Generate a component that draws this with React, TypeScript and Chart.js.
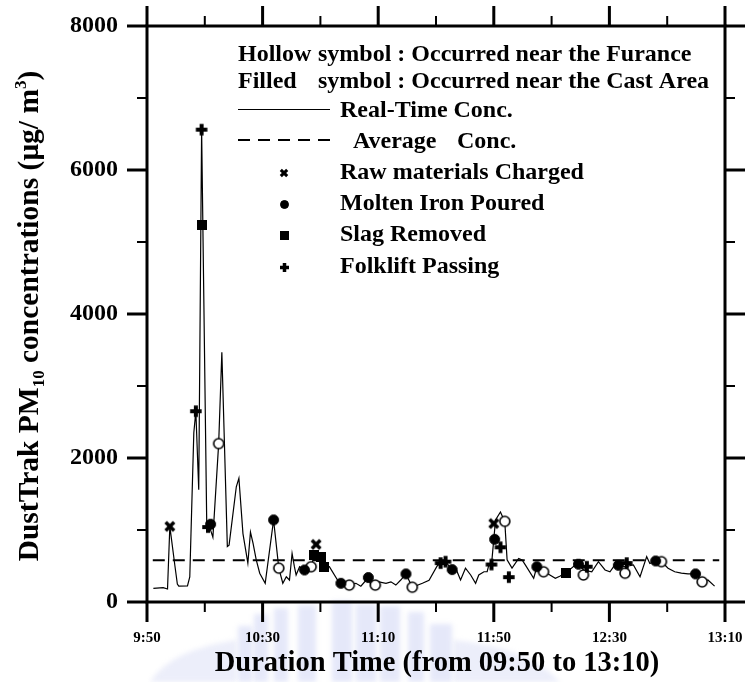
import React, { useEffect, useRef } from 'react';
import { Chart, registerables } from 'chart.js';

Chart.register(...registerables);

// Minutes elapsed since 09:50 and DustTrak PM10 readings (µg/m3)
const RT_MINUTES = [
  2.2, 5.6, 7.1, 7.9, 9.7, 10.5, 11.0, 14.0, 14.8, 16.2, 16.9, 17.9, 18.9, 20.7, 21.5, 22.8,
  24.8, 25.9, 27.8, 28.4, 30.9, 31.8, 33.2, 34.9, 35.8, 36.7, 37.8, 39.0, 40.9, 43.8, 45.6,
  47.0, 48.2, 49.3, 50.2, 51.0, 51.6, 52.8, 54.5, 56.8, 58.2, 60.0, 61.4, 63.1, 66.6, 70.0,
  72.3, 74.0, 76.6, 77.5, 79.0, 80.3, 82.7, 84.4, 86.1, 87.8, 89.6, 91.8, 95.3, 97.6, 100.4,
  101.6, 103.3, 105.6, 106.8, 108.5, 110.2, 112.0, 113.7, 114.8, 116.6, 117.7, 118.3, 119.2,
  120.6, 122.3, 123.8, 124.6, 126.3, 128.6, 129.8, 130.9, 133.8, 134.9, 137.2, 138.4, 141.3,
  143.0, 144.9, 148.2, 149.3, 151.0, 153.9, 156.2, 158.5, 160.2, 161.9, 163.1, 165.4, 168.3,
  170.6, 172.9, 174.0, 176.0, 178.0, 180.3, 182.6, 184.9, 187.2, 189.8, 192.1, 194.1, 196.4,
];
const RT_CONC = [
  190, 200, 180, 1050, 490, 250, 220, 225, 350, 2350, 2650, 1560, 6560, 1000, 1060, 900,
  2200, 3470, 770, 790, 1600, 1720, 950, 540, 970, 815, 585, 400, 260, 1140, 470,
  260, 350, 305, 675, 490, 375, 490, 445, 490, 700, 640, 490, 490, 260, 235,
  260, 220, 340, 235, 235, 280, 260, 280, 235, 305, 390, 205, 260, 300, 500,
  540, 560, 445, 470, 305, 470, 375, 260, 375, 420, 420, 515, 515,
  1140, 1250, 1115, 585, 470, 605, 585, 515, 330, 490, 420, 400, 330,
  360, 405, 515, 535, 445, 420, 560, 445, 420, 515, 515, 490, 515,
  350, 630, 535, 570, 560, 470, 420, 400, 390, 390, 280, 305, 220,
];

const AVG_CONC = 580;
const AVG_SPAN = [2, 198];

// Events (minutes, concentration)
const CHARGED_MIN = [7.9, 58.5, 120.0];
const CHARGED_VAL = [1050, 800, 1090];
const POURED_CAST_MIN = [22.0, 43.8, 54.5, 67.1, 76.6, 89.6, 105.6, 120.3, 134.9, 149.3, 163.1, 176.0, 189.8];
const POURED_CAST_VAL = [1080, 1140, 445, 260, 340, 390, 450, 870, 490, 525, 510, 570, 390];
const POURED_FURN_MIN = [24.8, 45.6, 56.8, 70.0, 79.0, 91.8, 123.8, 137.2, 151.0, 165.4, 178.0, 192.1];
const POURED_FURN_VAL = [2200, 470, 490, 235, 235, 205, 1120, 420, 375, 400, 560, 280];
const SLAG_MIN = [18.9, 57.9, 60.2, 61.4, 144.9];
const SLAG_VAL = [5240, 650, 620, 490, 405];
const FORKLIFT_MIN = [16.9, 18.9, 21.1, 101.6, 103.3, 119.2, 122.3, 125.2, 152.2, 166.0];
const FORKLIFT_VAL = [2650, 6560, 1040, 540, 560, 520, 760, 345, 490, 540];

const X_TICK_LABELS = ['9:50', '10:30', '11:10', '11:50', '12:30', '13:10'];
const Y_TICK_LABELS = ['0', '2000', '4000', '6000', '8000'];
const X_MAX = 200;
const X_MAJOR = 40;
const X_MINOR = 20;
const Y_MAX = 8000;
const Y_MAJOR = 2000;
const Y_MINOR = 1000;

const X_TITLE = 'Duration Time (from 09:50 to 13:10)';
const LEGEND_NOTE_1 = ['Hollow', 'symbol : Occurred near the Furance'];
const LEGEND_NOTE_2 = ['Filled', 'symbol : Occurred near the Cast Area'];
const LEGEND_LINE_1 = 'Real-Time Conc.';
const LEGEND_LINE_2 = ['Average', 'Conc.'];
const LEGEND_EVENTS = ['Raw materials Charged', 'Molten Iron Poured', 'Slag Removed', 'Folklift Passing'];

const SERIF = '"Liberation Serif", "Times New Roman", serif';
const bold = (size: number) => `bold ${size}px ${SERIF}`;

const pts = (xs: number[], ys: number[]) => xs.map((x, i) => ({ x, y: ys[i] }));

// Heavy "×" and "+" glyphs used as point images
function barGlyph(rotated: boolean, len: number, arm: number) {
  const size = Math.ceil(len + arm) + 2;
  const c = document.createElement('canvas');
  c.width = size;
  c.height = size;
  const g = c.getContext('2d')!;
  g.fillStyle = '#000';
  g.translate(size / 2, size / 2);
  if (rotated) g.rotate(Math.PI / 4);
  g.fillRect(-len / 2, -arm / 2, len, arm);
  g.fillRect(-arm / 2, -len / 2, arm, len);
  return c;
}

function dot(radius: number, filled: boolean, lw: number) {
  const size = Math.ceil(radius * 2 + lw) + 2;
  const c = document.createElement('canvas');
  c.width = size;
  c.height = size;
  const g = c.getContext('2d')!;
  g.beginPath();
  g.arc(size / 2, size / 2, radius, 0, Math.PI * 2);
  g.fillStyle = filled ? '#000' : '#fff';
  g.fill();
  g.lineWidth = lw;
  g.strokeStyle = '#000';
  g.stroke();
  return c;
}

function square(side: number) {
  const c = document.createElement('canvas');
  c.width = side;
  c.height = side;
  const g = c.getContext('2d')!;
  g.fillStyle = '#000';
  g.fillRect(0, 0, side, side);
  return c;
}

const markerSet = (xs: number[], ys: number[], img: HTMLCanvasElement) => ({
  data: pts(xs, ys),
  showLine: false,
  pointStyle: img,
  pointRadius: img.width / 2,
  order: 0,
});

// Faint bluish emblem sitting behind the axis title
function drawWatermark(ctx: CanvasRenderingContext2D) {
  ctx.save();
  ctx.filter = 'blur(2.5px)';
  ctx.fillStyle = 'rgba(175, 184, 236, 0.32)';
  const cols: [number, number, number][] = [
    [238, 252, 626], [254, 268, 614], [274, 288, 608], [298, 316, 605],
    [332, 352, 601], [356, 376, 604], [380, 400, 606], [408, 424, 612], [430, 452, 624],
  ];
  for (const [x0, x1, top] of cols) {
    ctx.fillRect(x0, top, x1 - x0, 682 - top);
  }
  ctx.fillStyle = 'rgba(180, 188, 236, 0.25)';
  ctx.beginPath();
  ctx.moveTo(150, 682);
  ctx.quadraticCurveTo(170, 650, 236, 640);
  ctx.lineTo(236, 682);
  ctx.closePath();
  ctx.fill();
  ctx.beginPath();
  ctx.moveTo(454, 640);
  ctx.quadraticCurveTo(530, 648, 560, 682);
  ctx.lineTo(454, 682);
  ctx.closePath();
  ctx.fill();
  ctx.restore();
}

const IMG: Record<string, HTMLCanvasElement> = {};

const framePlugin = {
  id: 'frame',
  beforeDraw(chart: any) {
    drawWatermark(chart.ctx);
  },
  afterDraw(chart: any) {
    const { ctx, chartArea: a, scales } = chart;
    const xs = scales.x;
    const ys = scales.y;
    ctx.save();
    ctx.strokeStyle = '#000';
    ctx.lineCap = 'square';
    ctx.lineWidth = 3;
    ctx.strokeRect(a.left, a.top, a.right - a.left, a.bottom - a.top);
    ctx.lineCap = 'butt';
    for (let m = 0; m <= X_MAX; m += X_MINOR) {
      const major = m % X_MAJOR === 0;
      const len = major ? 20 : 10;
      const px = xs.getPixelForValue(m);
      ctx.lineWidth = major ? 3 : 2;
      ctx.beginPath();
      ctx.moveTo(px, a.bottom);
      ctx.lineTo(px, a.bottom + len);
      ctx.moveTo(px, a.top);
      ctx.lineTo(px, a.top - len);
      ctx.stroke();
    }
    for (let v = 0; v <= Y_MAX; v += Y_MINOR) {
      const major = v % Y_MAJOR === 0;
      const len = major ? 20 : 10;
      const py = ys.getPixelForValue(v);
      ctx.lineWidth = major ? 3 : 2;
      ctx.beginPath();
      ctx.moveTo(a.left, py);
      ctx.lineTo(a.left - len, py);
      ctx.moveTo(a.right, py);
      ctx.lineTo(a.right + len, py);
      ctx.stroke();
    }

    ctx.fillStyle = '#000';
    // x-axis title
    ctx.font = bold(28.5);
    ctx.textAlign = 'center';
    ctx.textBaseline = 'middle';
    ctx.fillText(X_TITLE, (a.left + a.right) / 2 + 1, 664);

    // y-axis title with subscript / superscript
    const parts = [
      { t: 'DustTrak PM', s: 29.5, dy: 0 },
      { t: '10', s: 17, dy: 6 },
      { t: ' concentrations (', s: 29.5, dy: 0 },
      { t: 'μg/ m', s: 29.5, dy: 0 },
      { t: '3', s: 17, dy: -12 },
      { t: ')', s: 29.5, dy: 0 },
    ];
    ctx.save();
    ctx.translate(27, (a.top + a.bottom) / 2 + 2);
    ctx.rotate(-Math.PI / 2);
    ctx.textAlign = 'left';
    ctx.textBaseline = 'alphabetic';
    let total = 0;
    for (const p of parts) {
      ctx.font = bold(p.s);
      total += ctx.measureText(p.t).width;
    }
    let cx = -total / 2;
    for (const p of parts) {
      ctx.font = bold(p.s);
      ctx.fillText(p.t, cx, 11 + p.dy);
      cx += ctx.measureText(p.t).width;
    }
    ctx.restore();

    // legend block
    const lx = 238;
    ctx.font = bold(24);
    ctx.textAlign = 'left';
    ctx.textBaseline = 'middle';
    const symX = 318;
    ctx.fillText(LEGEND_NOTE_1[0], lx, 55);
    ctx.fillText(LEGEND_NOTE_1[1], symX, 55);
    ctx.fillText(LEGEND_NOTE_2[0], lx, 82);
    ctx.fillText(LEGEND_NOTE_2[1], symX, 82);

    ctx.lineWidth = 1.2;
    ctx.beginPath();
    ctx.moveTo(lx, 109.5);
    ctx.lineTo(330, 109.5);
    ctx.stroke();
    ctx.fillText(LEGEND_LINE_1, 340, 111);

    ctx.lineWidth = 2;
    ctx.setLineDash([12, 8]);
    ctx.beginPath();
    ctx.moveTo(lx, 140);
    ctx.lineTo(330, 140);
    ctx.stroke();
    ctx.setLineDash([]);
    ctx.fillText(LEGEND_LINE_2[0], 353, 142);
    ctx.fillText(LEGEND_LINE_2[1], 457, 142);

    const rows = [173, 204, 235, 267];
    const icons = [IMG.xSmall, IMG.dotSmall, IMG.sqSmall, IMG.plusSmall];
    LEGEND_EVENTS.forEach((label, i) => {
      const img = icons[i];
      ctx.drawImage(img, Math.round(284 - img.width / 2), Math.round(rows[i] - img.height / 2));
      ctx.fillText(label, 340, rows[i]);
    });
    ctx.restore();
  },
};

export default function App() {
  const ref = useRef<HTMLCanvasElement | null>(null);

  useEffect(() => {
    if (!ref.current) return;
    IMG.xSmall = barGlyph(true, 9, 3);
    IMG.plusSmall = barGlyph(false, 9, 3.5);
    IMG.dotSmall = dot(4, true, 1);
    IMG.sqSmall = square(9);
    const xMark = barGlyph(true, 12, 3.6);
    const plusMark = barGlyph(false, 11.5, 4);
    const filledDot = dot(5, true, 1);
    const hollowDot = dot(5, false, 1.6);
    const slagMark = square(10);

    const chart = new Chart(ref.current, {
      type: 'line',
      data: {
        datasets: [
          markerSet(CHARGED_MIN, CHARGED_VAL, xMark),
          markerSet(FORKLIFT_MIN, FORKLIFT_VAL, plusMark),
          markerSet(SLAG_MIN, SLAG_VAL, slagMark),
          markerSet(POURED_CAST_MIN, POURED_CAST_VAL, filledDot),
          markerSet(POURED_FURN_MIN, POURED_FURN_VAL, hollowDot),
          {
            data: pts(RT_MINUTES, RT_CONC),
            borderColor: '#000',
            borderWidth: 1.2,
            pointRadius: 0,
            tension: 0,
            order: 1,
          },
          {
            data: pts(AVG_SPAN, [AVG_CONC, AVG_CONC]),
            borderColor: '#000',
            borderWidth: 2,
            borderDash: [12, 8],
            pointRadius: 0,
            order: 2,
          },
        ] as any,
      },
      options: {
        responsive: false,
        animation: false,
        devicePixelRatio: 1,
        layout: { padding: { top: 26, right: 20, left: 0, bottom: 0 } },
        plugins: { legend: { display: false }, tooltip: { enabled: false } },
        scales: {
          x: {
            type: 'linear',
            min: 0,
            max: X_MAX,
            afterFit: (s: any) => {
              s.height = 80;
              s.paddingLeft = 0;
              s.paddingRight = 0;
            },
            grid: { display: false, drawTicks: false },
            border: { display: false },
            ticks: {
              stepSize: X_MAJOR,
              autoSkip: false,
              maxRotation: 0,
              padding: 27,
              color: '#000',
              font: { family: SERIF, size: 15, weight: 'bold' },
              callback: (v: any) => X_TICK_LABELS[Math.round(v / X_MAJOR)] ?? '',
            },
          },
          y: {
            min: 0,
            max: Y_MAX,
            afterFit: (s: any) => {
              s.width = 147;
              s.paddingTop = 0;
              s.paddingBottom = 0;
            },
            grid: { display: false, drawTicks: false },
            border: { display: false },
            ticks: {
              stepSize: Y_MAJOR,
              padding: 29,
              color: '#000',
              font: { family: SERIF, size: 24, weight: 'bold' },
              callback: (v: any) => Y_TICK_LABELS[Math.round(v / Y_MAJOR)] ?? '',
            },
          },
        },
      } as any,
      plugins: [framePlugin],
    });
    return () => chart.destroy();
  }, []);

  return (
    <div style={{ position: 'absolute', left: 0, top: 0, width: 745, height: 682, background: '#fff' }}>
      <canvas ref={ref} width={745} height={682} />
    </div>
  );
}
